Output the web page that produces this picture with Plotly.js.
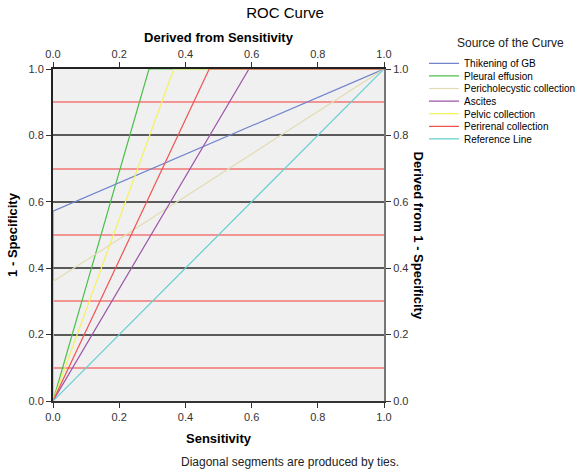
<!DOCTYPE html>
<html>
<head>
<meta charset="utf-8">
<script src="https://cdn.plot.ly/plotly-3.0.1.min.js"></script>
<style>html,body{margin:0;padding:0;background:#fff;}#chart{width:579px;height:476px;}</style>
</head>
<body>
<div id="chart"></div>
<script>
// Data
const seriesNames = ["Thikening of GB","Pleural effusion","Pericholecystic collection","Ascites","Pelvic collection","Perirenal collection","Reference Line"];
const thickeningX = [0, 0, 1];
const thickeningY = [0, 0.572, 1];
const pleuralX = [0, 0.29, 1];
const pleuralY = [0, 1, 1];
const perichoX = [0, 0, 1];
const perichoY = [0, 0.36, 1];
const ascitesX = [0, 0.592, 1];
const ascitesY = [0, 1, 1];
const pelvicX = [0, 0.365, 1];
const pelvicY = [0, 1, 1];
const perirenalX = [0, 0.472, 1];
const perirenalY = [0, 1, 1];
const referenceX = [0, 1];
const referenceY = [0, 1];
const tickVals = [0, 0.2, 0.4, 0.6, 0.8, 1.0];
const tickText = ["0.0","0.2","0.4","0.6","0.8","1.0"];
const minorVals = [0.1, 0.3, 0.5, 0.7, 0.9];
const colors = ["#7083cc","#4cbf4c","#e2dcb4","#9c54a8","#f5f060","#f05454","#66cdd0"];

const xs = [thickeningX, pleuralX, perichoX, ascitesX, pelvicX, perirenalX, referenceX];
const ys = [thickeningY, pleuralY, perichoY, ascitesY, pelvicY, perirenalY, referenceY];

const font = "Liberation Sans, Arial, sans-serif";
const tickFont = {family: font, size: 11, color: "#333"};

// plot area geometry (pixels) used to place the legends
const plotTop = 69, plotBottom = 401;
const legendStartPx = 63.3, legendStepPx = 12.6;
const pxToPaperY = p => (plotBottom - p) / (plotBottom - plotTop);

const traces = seriesNames.map((n, i) => ({
  x: xs[i], y: ys[i], name: n, type: "scatter", mode: "lines",
  line: {color: colors[i], width: 1.2}, hoverinfo: "skip",
  legend: i === 0 ? "legend" : "legend" + (i + 1)
}));
// invisible trace to carry the secondary axes
traces.push({x: [0, 1], y: [0, 1], xaxis: "x2", yaxis: "y2", mode: "lines", line: {width: 0}, showlegend: false, hoverinfo: "skip"});

const layout = {
  width: 579, height: 476,
  margin: {l: 53, r: 195, t: 69, b: 75, autoexpand: false},
  paper_bgcolor: "#ffffff",
  plot_bgcolor: "#f0f0f0",
  showlegend: true,
  title: {text: "ROC Curve", font: {family: font, size: 15, color: "#000"}, x: 285 / 579, xanchor: "center", y: 0.985, yanchor: "top"},
  xaxis: {
    range: [0, 1], tickvals: tickVals, ticktext: tickText, ticks: "outside", ticklen: 5, tickcolor: "#333",
    showgrid: false, zeroline: false, showline: true, linecolor: "#333", linewidth: 2, mirror: false,
    tickfont: tickFont,
    title: {text: "<b>Sensitivity</b>", font: {family: font, size: 13, color: "#000"}, standoff: 12}
  },
  xaxis2: {
    range: [0, 1], tickvals: tickVals, ticktext: tickText, ticks: "outside", ticklen: 5, tickcolor: "#333",
    overlaying: "x", side: "top", anchor: "y2",
    showgrid: false, zeroline: false, showline: true, linecolor: "#222", linewidth: 2,
    tickfont: tickFont,
    title: {text: "<b>Derived from Sensitivity</b>", font: {family: font, size: 13, color: "#000"}, standoff: 2}
  },
  yaxis: {
    range: [0, 1], tickvals: tickVals, ticktext: tickText, ticks: "outside", ticklen: 5, tickcolor: "#333",
    showgrid: true, gridcolor: "#5a5a5a", gridwidth: 2,
    minor: {tickmode: "array", tickvals: minorVals, showgrid: true, gridcolor: "#f29494", gridwidth: 2, ticks: ""},
    zeroline: false, showline: true, linecolor: "#222", linewidth: 2,
    tickfont: tickFont,
    title: {text: "<b>1 - Specificity</b>", font: {family: font, size: 13, color: "#000"}, standoff: 8}
  },
  yaxis2: {
    range: [0, 1], tickvals: tickVals, ticktext: tickText, ticks: "outside", ticklen: 5, tickcolor: "#333",
    overlaying: "y", side: "right", anchor: "x2",
    showgrid: false, zeroline: false, showline: true, linecolor: "#777", linewidth: 2,
    tickfont: tickFont
  },
  annotations: [
    {text: "<b>Derived from 1 - Specificity</b>", xref: "paper", yref: "paper", x: (409 - 53) / 331, y: 0.5,
     xanchor: "left", yanchor: "middle", textangle: 90, showarrow: false,
     font: {family: font, size: 13, color: "#000"}},
    {text: "Diagonal segments are produced by ties.", xref: "paper", yref: "paper", x: (290 - 53) / 331, y: pxToPaperY(462),
     xanchor: "center", yanchor: "middle", showarrow: false,
     font: {family: font, size: 12, color: "#222"}},
    {text: "Source of the Curve", xref: "paper", yref: "paper", x: (510 - 53) / 331, y: pxToPaperY(43),
     xanchor: "center", yanchor: "middle", showarrow: false,
     font: {family: font, size: 12, color: "#222"}}
  ]
};

// one single-item legend per series so the rows sit as tightly as in the reference
seriesNames.forEach((n, i) => {
  const key = i === 0 ? "legend" : "legend" + (i + 1);
  layout[key] = {
    x: (424 - 53) / 331, y: pxToPaperY(legendStartPx + i * legendStepPx),
    xanchor: "left", yanchor: "middle",
    font: {family: font, size: 10, color: "#000"},
    itemwidth: 30, bgcolor: "rgba(0,0,0,0)", borderwidth: 0
  };
});

Plotly.newPlot("chart", traces, layout, {displayModeBar: false, staticPlot: true});
</script>
</body>
</html>
